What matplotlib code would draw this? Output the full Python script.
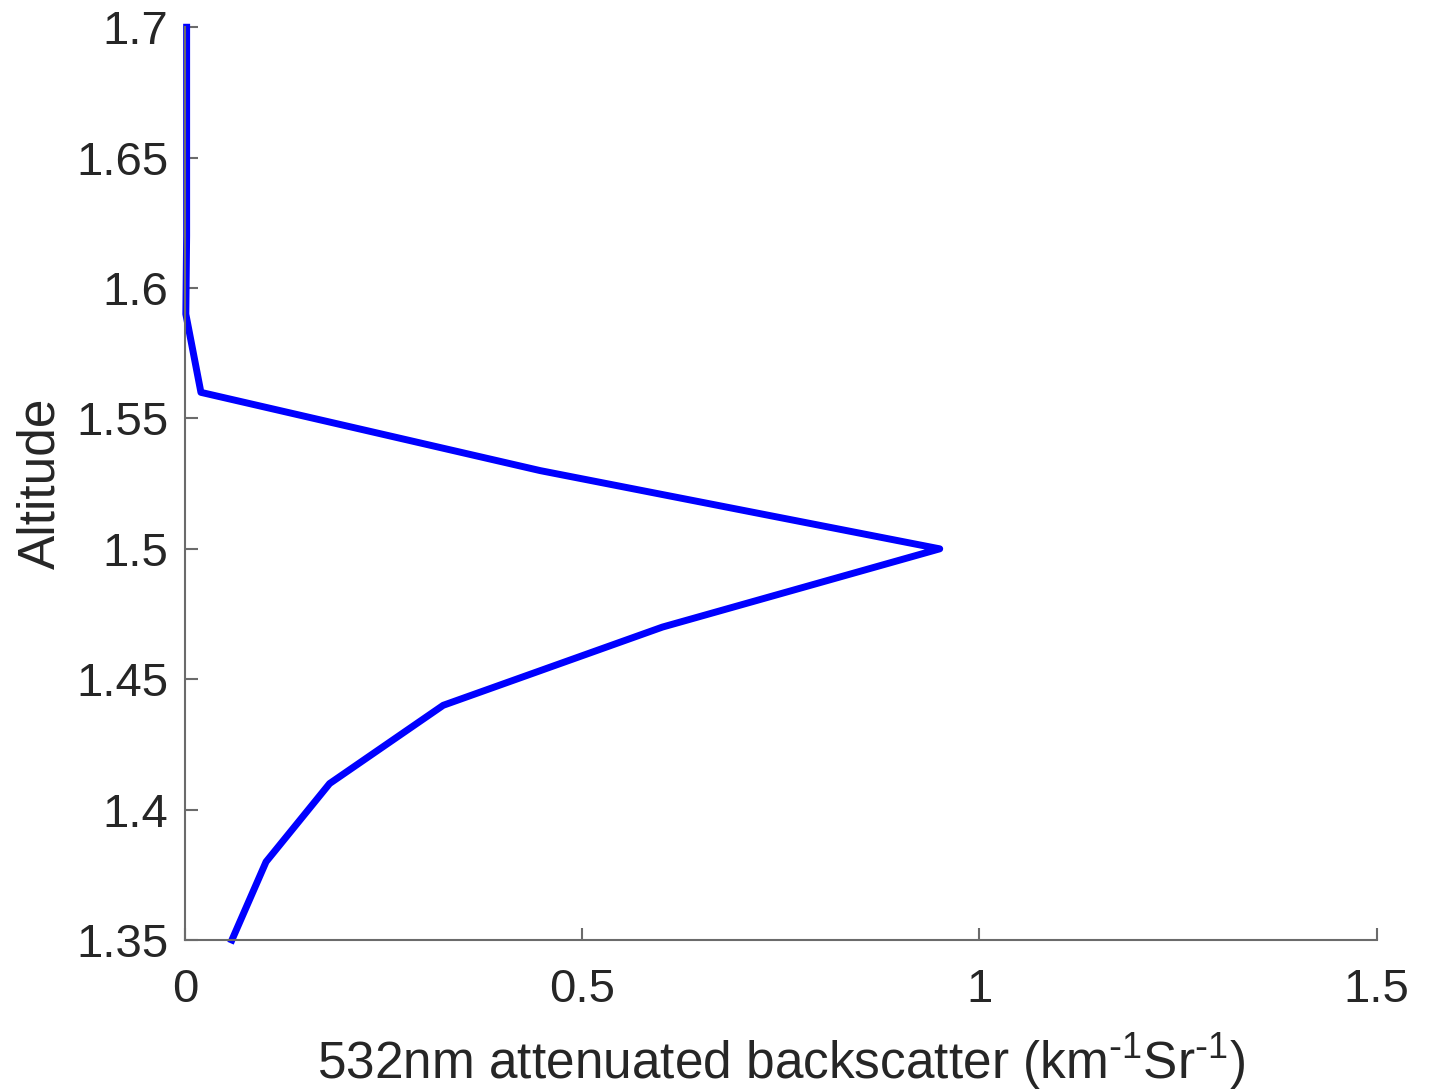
import numpy as np
import matplotlib
import matplotlib.pyplot as plt

matplotlib.use("Agg")

plt.rcParams['font.family'] = ['Liberation Sans', 'DejaVu Sans']
plt.rcParams['mathtext.default'] = 'regular'

# backscatter profile
backscatter = [0.059, 0.102, 0.182, 0.325, 0.601, 0.950, 0.447, 0.020, 0.001, 0.002, 0.002, 0.002, 0.002]
altitude = [1.35, 1.38, 1.41, 1.44, 1.47, 1.50, 1.53, 1.56, 1.59, 1.62, 1.65, 1.68, 1.70]

xticks = [0, 0.5, 1, 1.5]
xtick_labels = ['0', '0.5', '1', '1.5']
yticks = [1.35, 1.4, 1.45, 1.5, 1.55, 1.6, 1.65, 1.7]
ytick_labels = ['1.35', '1.4', '1.45', '1.5', '1.55', '1.6', '1.65', '1.7']

fig = plt.figure(figsize=(14.4, 10.9), dpi=100)
ax = fig.add_axes([0.1285, 0.1376, 0.956 - 0.1285, 0.975 - 0.1376])

ax.plot(backscatter, altitude, color='#0000ff', lw=5, solid_joinstyle='round', clip_on=False)

ax.set_xlim(0, 1.5)
ax.set_ylim(1.35, 1.7)
ax.set_xticks(xticks, xtick_labels)
ax.set_yticks(yticks, ytick_labels)

for s in ['top', 'right']:
    ax.spines[s].set_visible(False)
for s in ['left', 'bottom']:
    ax.spines[s].set_color('#6b6b6b')
    ax.spines[s].set_linewidth(1.5)

ax.tick_params(direction='in', length=9, width=1.5, color='#6b6b6b',
               labelsize=34, labelcolor='#262626')
ax.tick_params(axis='x', pad=20)
ax.tick_params(axis='y', pad=12)

ax.set_xlabel(r'532nm attenuated backscatter (km$^{\text{-}1}$Sr$^{\text{-}1}$)', fontsize=37,
              color='#262626', labelpad=14)
ax.set_ylabel('Altitude', fontsize=37, color='#262626', labelpad=8)

fig.savefig('out.png', dpi=100)
